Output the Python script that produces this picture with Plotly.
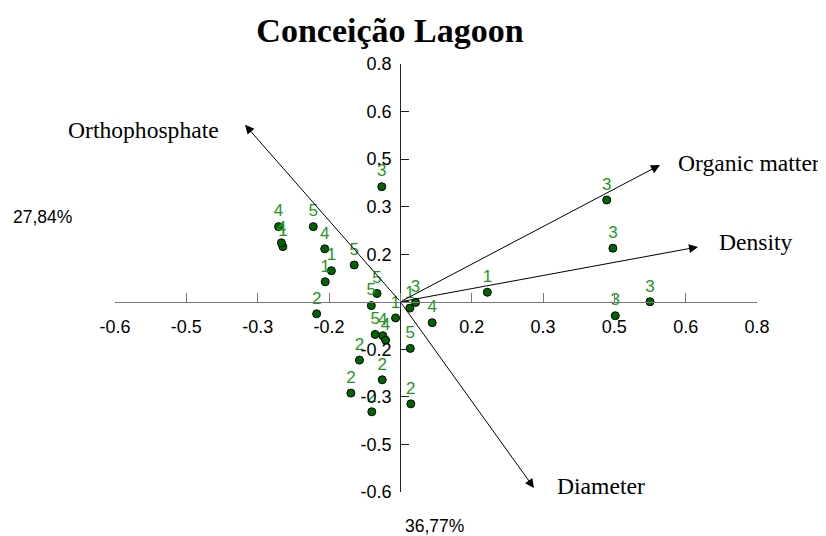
import plotly.graph_objects as go

# ---- data ----
groups = ["1"] * 6 + ["2"] * 6 + ["3"] * 6 + ["4"] * 6 + ["5"] * 6
pc1 = [0.183, -0.145, -0.158, -0.010, 0.020, -0.247,
       -0.176, -0.086, -0.038, -0.104, -0.060, 0.022,
       -0.039, 0.434, 0.447, 0.525, 0.452, 0.032,
       -0.256, -0.250, -0.159, 0.067, -0.037, -0.031,
       -0.183, -0.097, -0.049, -0.061, -0.053, 0.021]
pc2 = [0.030, 0.098, 0.063, -0.051, -0.020, 0.174,
       -0.038, -0.184, -0.246, -0.288, -0.347, -0.322,
       0.363, 0.321, 0.169, 0.000, -0.044, -0.002,
       0.237, 0.186, 0.167, -0.066, -0.107, -0.121,
       0.237, 0.116, 0.026, -0.012, -0.103, -0.147]

var_names = ["Orthophosphate", "Organic matter", "Density", "Diameter"]
var_pc1 = [-0.3265, 0.546, 0.626, 0.281]
var_pc2 = [0.558, 0.4315, 0.173, -0.587]

tick_vals = [-0.6, -0.45, -0.3, -0.15, 0, 0.15, 0.3, 0.45, 0.6, 0.75]
tick_text = ["-0.6", "-0.5", "-0.3", "-0.2", "", "0.2", "0.3", "0.5", "0.6", "0.8"]
pc1_label = "36,77%"
pc2_label = "27,84%"
title = "Conceição Lagoon"

# ---- figure ----
# page body has an 8px margin, so the figure is drawn 8px in from the top-left
W, H = 818, 528
x_range = [-0.6, 0.75]
y_range = [-0.6, 0.75]
x_zero = (0 - y_range[0]) / (y_range[1] - y_range[0])
y_zero = (0 - x_range[0]) / (x_range[1] - x_range[0])

fig = go.Figure()
fig.add_trace(go.Scatter(
    x=pc1, y=pc2, mode="markers+text", text=groups,
    textposition="top center",
    textfont=dict(family="Liberation Sans, Arial", size=17, color="#1f961f"),
    marker=dict(size=8, color="#006400", line=dict(color="black", width=1)),
    cliponaxis=False, showlegend=False, hoverinfo="skip",
))

label_cfg = {
    "Orthophosphate": dict(xanchor="right", xshift=-24, yshift=-5),
    "Organic matter": dict(xanchor="left", xshift=16, yshift=2),
    "Density": dict(xanchor="left", xshift=19, yshift=5),
    "Diameter": dict(xanchor="left", xshift=21, yshift=2),
}
annotations = []
for name, vx, vy in zip(var_names, var_pc1, var_pc2):
    annotations.append(dict(
        x=vx, y=vy, ax=0, ay=0, xref="x", yref="y", axref="x", ayref="y",
        showarrow=True, arrowhead=2, arrowsize=1.8, arrowwidth=1,
        arrowcolor="black", text="",
    ))
    cfg = label_cfg[name]
    annotations.append(dict(
        x=vx, y=vy, xref="x", yref="y", showarrow=False, text=name,
        xanchor=cfg["xanchor"], yanchor="middle",
        xshift=cfg["xshift"], yshift=cfg["yshift"],
        font=dict(family="Liberation Serif, Times New Roman", size=23.6, color="black"),
    ))

annotations.append(dict(
    x=-0.1137, y=0.6425, xref="paper", yref="paper", showarrow=False,
    text=pc2_label, xanchor="center", yanchor="middle",
    font=dict(family="Liberation Sans, Arial", size=17.5, color="black"),
))
annotations.append(dict(
    x=0.4984, y=-0.0794, xref="paper", yref="paper", showarrow=False,
    text=pc1_label, xanchor="center", yanchor="middle",
    font=dict(family="Liberation Sans, Arial", size=17.5, color="black"),
))

fig.update_layout(
    width=W, height=H,
    margin=dict(l=107, r=69, t=56, b=44, autoexpand=False),
    plot_bgcolor="white", paper_bgcolor="white",
    title=dict(text="<b>" + title + "</b>", x=382 / W, xref="container", xanchor="center",
               y=1 - 22 / H, yanchor="middle",
               font=dict(family="Liberation Serif, Times New Roman", size=34, color="black")),
    annotations=annotations,
    xaxis=dict(range=x_range, anchor="free", position=x_zero, automargin=False,
               showgrid=False, zeroline=False, showline=True,
               linecolor="#777777", linewidth=1.3,
               ticks="inside", ticklen=9, tickcolor="#777777", tickwidth=1.3,
               tickvals=tick_vals, ticktext=tick_text,
               ticklabelstandoff=8,
               tickfont=dict(family="Liberation Sans, Arial", size=18, color="black")),
    yaxis=dict(range=y_range, anchor="free", position=y_zero, automargin=False,
               showgrid=False, zeroline=False, showline=True,
               linecolor="#222222", linewidth=1.2,
               ticks="inside", ticklen=8, tickcolor="#222222", tickwidth=1.2,
               tickvals=tick_vals, ticktext=tick_text,
               ticklabelstandoff=5,
               tickfont=dict(family="Liberation Sans, Arial", size=18, color="black")),
)

fig.write_html("out.html")
